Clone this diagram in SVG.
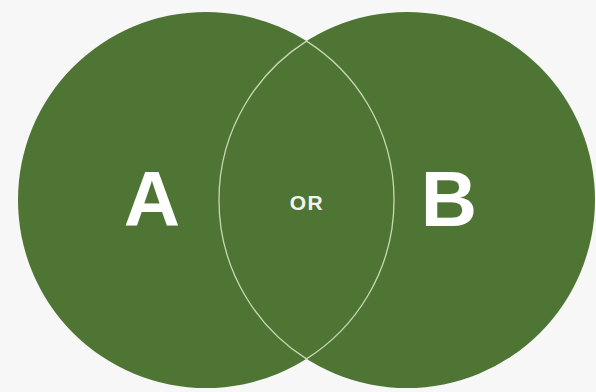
<svg xmlns="http://www.w3.org/2000/svg" width="596" height="392" viewBox="0 0 596 392">
<style>
.circ{fill:#4f7534}
.lens{fill:none;stroke:#c9d8b4;stroke-width:1.3}
.big{font-family:"Liberation Sans",Arial,sans-serif;font-weight:bold;font-size:78px;fill:#ffffff;text-anchor:middle}
.small{font-family:"Liberation Sans",Arial,sans-serif;font-weight:bold;font-size:21px;fill:#f4f4ee;text-anchor:middle;letter-spacing:1.5px}
</style>
<rect width="596" height="392" fill="#f7f7f7"/>
<g id="nodeA"><circle class="circ" cx="206" cy="200" r="188"/></g>
<g id="nodeB"><circle class="circ" cx="407" cy="200" r="188"/></g>
<g id="connectors"><path class="lens" d="M306.5 41.1 A188 188 0 0 0 306.5 358.9 A188 188 0 0 0 306.5 41.1 Z"/></g>
<g id="labels">
<text class="big" x="152" y="226">A</text>
<text class="big" x="449" y="226">B</text>
<text class="small" x="307" y="210">OR</text>
</g>
</svg>
